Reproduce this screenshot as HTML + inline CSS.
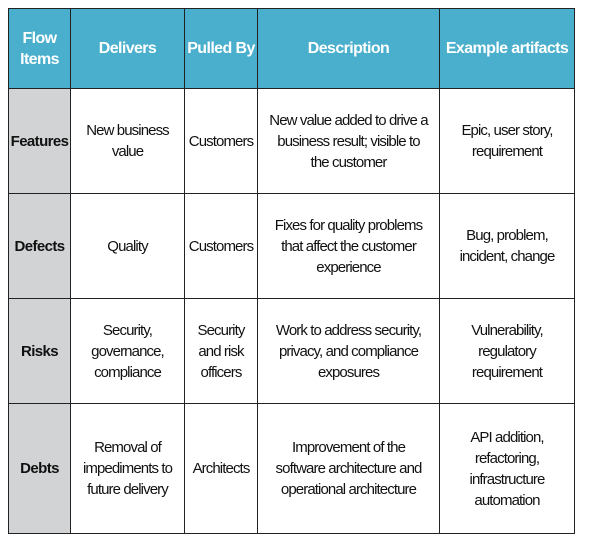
<!DOCTYPE html>
<html><head><style>
body{margin:0;background:#fff;width:593px;height:543px;overflow:hidden}
table{position:absolute;left:8px;top:8px;border-collapse:collapse;table-layout:fixed;font-family:"Liberation Sans",sans-serif}
td{border:1.5px solid #222;text-align:center;vertical-align:middle;padding:0 1px;font-size:15px;line-height:21px;color:#111;letter-spacing:-0.9px;overflow:hidden}
tr.h td{background:#4aafcc;color:#fff;font-weight:bold;font-size:16px;letter-spacing:-0.6px;height:79px}
td.k{background:#d1d3d4;font-weight:bold;font-size:15px;letter-spacing:-0.6px;padding:0}
</style></head><body>
<table>
<colgroup><col style="width:62px"><col style="width:114px"><col style="width:73px"><col style="width:182px"><col style="width:135px"></colgroup>
<tr class="h"><td>Flow<br>Items</td><td>Delivers</td><td>Pulled By</td><td>Description</td><td>Example artifacts</td></tr>
<tr style="height:105px"><td class="k">Features</td><td>New business<br>value</td><td>Customers</td><td>New value added to drive a<br>business result; visible to<br>the customer</td><td>Epic, user story,<br>requirement</td></tr>
<tr style="height:105px"><td class="k">Defects</td><td>Quality</td><td>Customers</td><td>Fixes for quality problems<br>that affect the customer<br>experience</td><td>Bug, problem,<br>incident, change</td></tr>
<tr style="height:105px"><td class="k">Risks</td><td>Security,<br>governance,<br>compliance</td><td>Security<br>and risk<br>officers</td><td>Work to address security,<br>privacy, and compliance<br>exposures</td><td>Vulnerability,<br>regulatory<br>requirement</td></tr>
<tr style="height:130px"><td class="k">Debts</td><td>Removal of<br>impediments to<br>future delivery</td><td>Architects</td><td>Improvement of the<br>software architecture and<br>operational architecture</td><td>API addition,<br>refactoring,<br>infrastructure<br>automation</td></tr>
</table>
</body></html>
